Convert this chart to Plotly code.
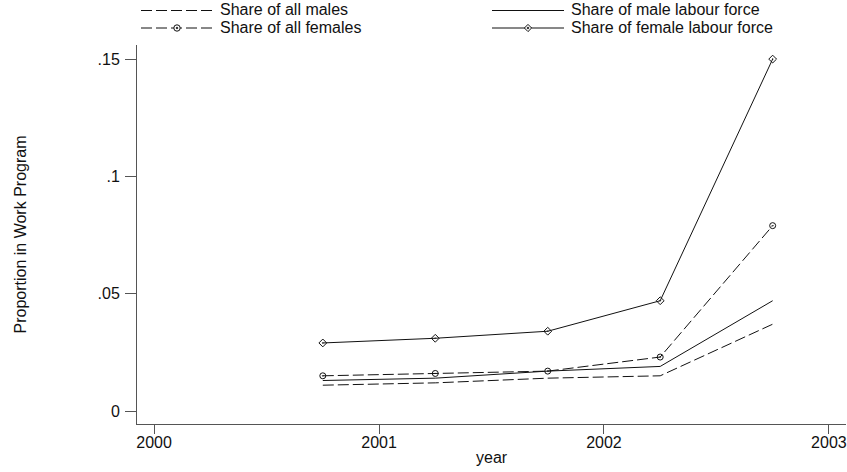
import plotly.graph_objects as go

# Survey rounds (half-year midpoints) and shares in the work program
years = [2000.75, 2001.25, 2001.75, 2002.25, 2002.75]
share_all_males = [0.011, 0.012, 0.014, 0.015, 0.037]
share_all_females = [0.015, 0.016, 0.017, 0.023, 0.079]
share_male_lf = [0.013, 0.014, 0.017, 0.019, 0.047]
share_female_lf = [0.029, 0.031, 0.034, 0.047, 0.150]

x_ticks = [2000, 2001, 2002, 2003]
y_ticks = [0, 0.05, 0.1, 0.15]
y_ticklabels = ["0", ".05", ".1", ".15"]

FONT = "Liberation Sans, Arial, Helvetica, sans-serif"
INK = "#111111"
AXIS = "#555555"
DASH = "11px,4px"

W, H = 847, 472
ML, MR, MT, MB = 137, 1, 45, 48
PW, PH = W - ML - MR, H - MT - MB


def px_x(px):
    return (px - ML) / PW


def px_y(py):
    return (H - MB - py) / PH


series = [
    ("Share of all males", share_all_males, DASH, None),
    ("Share of all females", share_all_females, DASH, "circle-open-dot"),
    ("Share of male labour force", share_male_lf, "solid", None),
    ("Share of female labour force", share_female_lf, "solid", "diamond-open-dot"),
]

fig = go.Figure()
for name, vals, dash, sym in series:
    fig.add_trace(go.Scatter(
        x=years, y=vals, name=name,
        mode="lines+markers" if sym else "lines",
        line=dict(color=INK, width=1, dash=dash),
        marker=dict(symbol=sym or "circle", size=6, color=INK,
                    line=dict(color=INK, width=1)),
        showlegend=False,
    ))


def key_symbol(sym, cx, cy):
    """Small hollow symbol with a centre dot, as paper-space shapes."""
    r = 3.2
    if sym.startswith("circle"):
        fig.add_shape(type="circle", xref="paper", yref="paper",
                      x0=px_x(cx - r), x1=px_x(cx + r), y0=px_y(cy + r), y1=px_y(cy - r),
                      line=dict(color=INK, width=1), fillcolor="white")
    else:
        r = 3.6
        pts = [(cx - r, cy), (cx, cy - r), (cx + r, cy), (cx, cy + r)]
        path = "M " + " L ".join(f"{px_x(a):.5f},{px_y(b):.5f}" for a, b in pts) + " Z"
        fig.add_shape(type="path", xref="paper", yref="paper", path=path,
                      line=dict(color=INK, width=1), fillcolor="white")
    d = 0.9
    fig.add_shape(type="circle", xref="paper", yref="paper",
                  x0=px_x(cx - d), x1=px_x(cx + d), y0=px_y(cy + d), y1=px_y(cy - d),
                  line=dict(color=INK, width=0.5), fillcolor=INK)


# Key above the plot, two columns of two entries
key_rows = [(10.5, 9), (28, 27)]           # (line y, text y) in px
key_cols = [(141, 213, 219), (492, 564, 570)]
key_layout = [(0, 0), (1, 0), (0, 1), (1, 1)]  # (row, col) per series
for (name, vals, dash, sym), (r, c) in zip(series, key_layout):
    x0, x1, xt = key_cols[c]
    yl, yt = key_rows[r]
    fig.add_shape(
        type="line", xref="paper", yref="paper",
        x0=px_x(x0), x1=px_x(x1), y0=px_y(yl), y1=px_y(yl),
        line=dict(color=INK, width=1, dash=dash),
    )
    if sym:
        key_symbol(sym, (x0 + x1) / 2, yl)
    fig.add_annotation(
        x=px_x(xt), y=px_y(yt), xref="paper", yref="paper", text=name,
        showarrow=False, xanchor="left", yanchor="middle", borderpad=0,
        font=dict(family=FONT, size=16, color=INK),
    )

fig.update_layout(
    width=W, height=H,
    margin=dict(l=ML, r=MR, t=MT, b=MB),
    plot_bgcolor="white", paper_bgcolor="white",
    font=dict(family=FONT, size=16, color=INK),
    showlegend=False,
    xaxis=dict(
        range=[1999.924, 2003.076], tickvals=x_ticks, ticktext=[str(t) for t in x_ticks],
        ticks="outside", ticklen=9, tickcolor=AXIS, tickwidth=1,
        ticklabelstandoff=-5,
        showline=True, linecolor=AXIS, linewidth=1,
        showgrid=False, zeroline=False,
    ),
    yaxis=dict(
        range=[-0.00554, 0.156], tickvals=y_ticks, ticktext=y_ticklabels,
        ticks="outside", ticklen=11, tickcolor=AXIS, tickwidth=1,
        ticklabelstandoff=2,
        showline=True, linecolor=AXIS, linewidth=1,
        showgrid=False, zeroline=False,
    ),
)

# Axis titles
fig.add_annotation(
    x=px_x(20), y=0.5, xref="paper", yref="paper", text="Proportion in Work Program",
    textangle=-90, showarrow=False, xanchor="center", yanchor="middle",
    font=dict(family=FONT, size=16, color=INK),
)
fig.add_annotation(
    x=0.5, y=px_y(457), xref="paper", yref="paper", text="year",
    showarrow=False, xanchor="center", yanchor="middle",
    font=dict(family=FONT, size=16, color=INK),
)

fig.write_html("out.html")
